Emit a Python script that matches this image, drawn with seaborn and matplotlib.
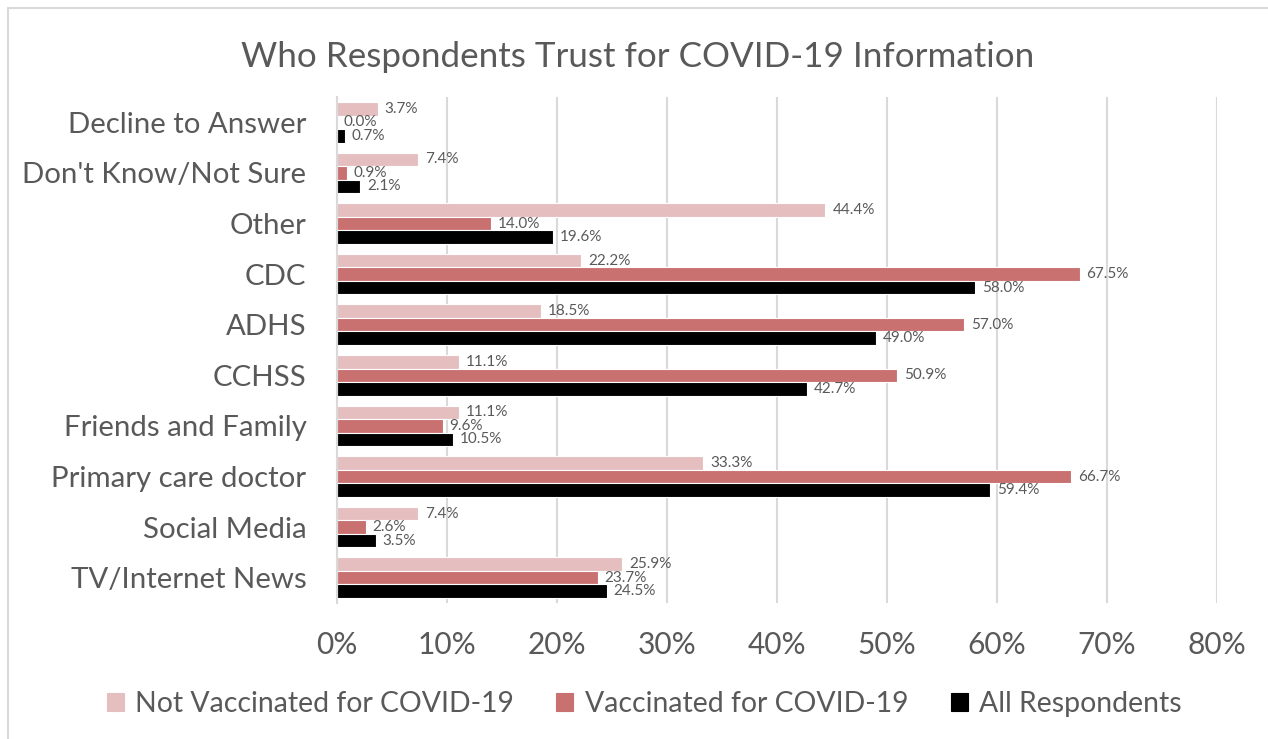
import pandas as pd
import matplotlib.pyplot as plt
import seaborn as sns
from matplotlib.patches import Rectangle

# Data
sources = ['Decline to Answer', "Don't Know/Not Sure", 'Other', 'CDC', 'ADHS', 'CCHSS',
           'Friends and Family', 'Primary care doctor', 'Social Media', 'TV/Internet News']
not_vaccinated = [3.7, 7.4, 44.4, 22.2, 18.5, 11.1, 11.1, 33.3, 7.4, 25.9]
vaccinated = [0.0, 0.9, 14.0, 67.5, 57.0, 50.9, 9.6, 66.7, 2.6, 23.7]
all_respondents = [0.7, 2.1, 19.6, 58.0, 49.0, 42.7, 10.5, 59.4, 3.5, 24.5]
groups = ['Not Vaccinated for COVID-19', 'Vaccinated for COVID-19', 'All Respondents']
colors = ['#E5BFC0', '#C97171', '#000000']

data = pd.DataFrame({
    'Source': sources * 3,
    'Group': [groups[0]] * 10 + [groups[1]] * 10 + [groups[2]] * 10,
    'Percent': not_vaccinated + vaccinated + all_respondents,
})

sns.set_style('white')
plt.rcParams['font.family'] = ['Lato', 'DejaVu Sans']
text_color = '#595959'

fig = plt.figure(figsize=(12.68, 7.39), dpi=100)
ax = fig.add_axes([0.2658, 0.184, 0.694, 0.6847])

sns.barplot(data=data, y='Source', x='Percent', hue='Group', order=sources, hue_order=groups,
            palette=colors, saturation=1, orient='h', width=0.8, edgecolor='white',
            linewidth=0.8, ax=ax)

for container in ax.containers:
    ax.bar_label(container, fmt='%.1f%%', padding=5, fontsize=11, color=text_color)

ax.set_xlim(0, 80)
ax.set_ylim(9.5, -0.5)
ax.set_xticks(range(0, 81, 10))
ax.set_xticklabels([f'{v}%' for v in range(0, 81, 10)])
ax.xaxis.grid(True, color='#d9d9d9', linewidth=1.5)
ax.set_axisbelow(True)
ax.tick_params(axis='x', labelsize=21.5, colors=text_color, pad=20, length=0)
ax.tick_params(axis='y', labelsize=21.2, colors=text_color, pad=22, length=0)
ax.set_xlabel('')
ax.set_ylabel('')
for side in ['top', 'right', 'bottom']:
    ax.spines[side].set_visible(False)
ax.spines['left'].set_color('#d9d9d9')
ax.spines['left'].set_linewidth(1.5)

fig.suptitle('Who Respondents Trust for COVID-19 Information', x=0.503, y=0.945,
             fontsize=25.2, color=text_color)

handles, labels = ax.get_legend_handles_labels()
for h in handles:
    h.set_edgecolor(h.get_facecolor())
ax.legend(handles, labels, loc='center', bbox_to_anchor=(0.508, 0.047), bbox_transform=fig.transFigure,
          ncol=3, frameon=False, fontsize=20.4, labelcolor=text_color, handlelength=0.6,
          handleheight=0.6, handletextpad=0.4, columnspacing=1.5)

fig.add_artist(Rectangle((8 / 1268, -0.02), 1.2, 1 - 8 / 739 + 0.02, transform=fig.transFigure,
                         fill=False, edgecolor='#d9d9d9', linewidth=1.5))

plt.savefig('out.png', dpi=100)
